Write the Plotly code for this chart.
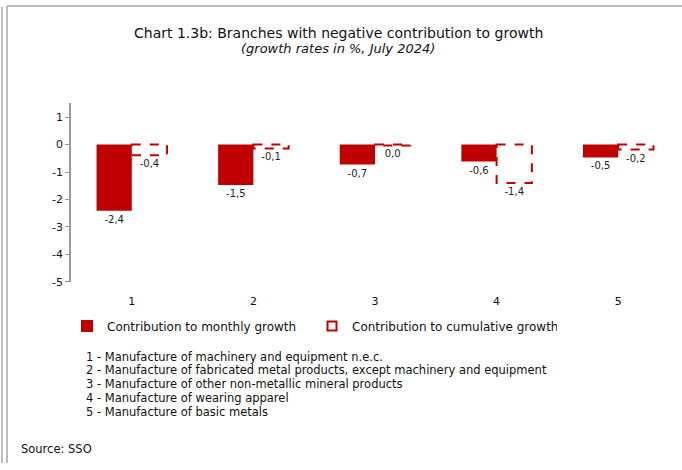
import plotly.graph_objects as go

# data
categories = ["1", "2", "3", "4", "5"]
monthly = [-2.41, -1.47, -0.73, -0.62, -0.47]
cumulative = [-0.39, -0.14, -0.03, -1.40, -0.18]
y_ticks = [1, 0, -1, -2, -3, -4, -5]
footnotes = [
    "1 - Manufacture of machinery and equipment n.e.c.",
    "2 - Manufacture of fabricated metal products, except machinery and equipment",
    "3 - Manufacture of other non-metallic mineral products",
    "4 - Manufacture of wearing apparel",
    "5 - Manufacture of basic metals",
]

W, H = 682, 470
RED = "#C00000"
GREY = "#9a9a9a"
FONT = "DejaVu Sans, Arial, sans-serif"
BAR_W = 0.29
Y_RANGE = [-5, 1.5]

def fmt(v):
    return f"{round(v, 1) + 0.0:.1f}".replace(".", ",")

x_dom = [71 / W, 679 / W]
y_dom = [1 - 286 / H, 1 - 105 / H]
zero_pos = y_dom[0] + (0 - Y_RANGE[0]) / (Y_RANGE[1] - Y_RANGE[0]) * (y_dom[1] - y_dom[0])

fig = go.Figure()

fig.add_trace(go.Bar(
    x=categories, y=monthly, name="Contribution to monthly growth",
    marker=dict(color=RED, line=dict(width=0)),
    width=BAR_W, offset=-BAR_W,
    text=[fmt(v) for v in monthly], textposition="outside",
    textfont=dict(size=10, color="#222222", family=FONT),
    cliponaxis=False,
))

fig.add_trace(go.Bar(
    x=categories, y=cumulative, name="Contribution to cumulative growth",
    marker=dict(color="rgba(0,0,0,0)", line=dict(width=0)),
    width=BAR_W, offset=0,
    text=[fmt(v) for v in cumulative], textposition="outside",
    textfont=dict(size=10, color="#222222", family=FONT),
    cliponaxis=False, showlegend=False,
))

# legend entry for the dashed series
fig.add_trace(go.Scatter(
    x=[None], y=[None], mode="markers", name="Contribution to cumulative growth",
    marker=dict(symbol="square-open", size=9, color=RED, line=dict(width=2)),
))

# dashed outlines for cumulative bars (plotly bars have no dashed border)
for i, v in enumerate(cumulative):
    fig.add_shape(
        type="rect", xref="x", yref="y",
        x0=i, x1=i + BAR_W, y0=0, y1=v,
        line=dict(color=RED, width=2, dash="dash"),
        fillcolor="rgba(0,0,0,0)",
    )

# frame lines
for x0, y0, x1, y1 in [(2, 7, 2, H), (7, 6, 7, H), (7, 6, W, 6)]:
    fig.add_shape(
        type="line", xref="paper", yref="paper",
        x0=x0 / W, x1=x1 / W, y0=1 - y0 / H, y1=1 - y1 / H,
        line=dict(color="#bdbdbd", width=2),
    )

fig.add_annotation(
    text="Chart 1.3b: Branches with negative contribution to growth",
    xref="paper", yref="paper", x=338 / W, y=1 - 33 / H,
    xanchor="center", yanchor="middle", borderpad=0,
    showarrow=False, font=dict(size=14, color="#111111", family=FONT),
)
fig.add_annotation(
    text="<i>(growth rates in %, July 2024)</i>",
    xref="paper", yref="paper", x=338 / W, y=1 - 49 / H,
    xanchor="center", yanchor="middle", borderpad=0,
    showarrow=False, font=dict(size=13, color="#111111", family=FONT),
)

for k, line in enumerate(footnotes):
    fig.add_annotation(
        text=line, xref="paper", yref="paper",
        x=84 / W, y=1 - (362 + 14 * k) / H, xanchor="left", yanchor="middle",
        showarrow=False, font=dict(size=11.5, color="#111111", family=FONT),
    )

fig.add_annotation(
    text="Source: SSO", xref="paper", yref="paper",
    x=19 / W, y=1 - 456 / H, xanchor="left", yanchor="middle",
    showarrow=False, font=dict(size=11.5, color="#111111", family=FONT),
)

fig.update_layout(
    width=W, height=H,
    margin=dict(l=0, r=0, t=0, b=0),
    paper_bgcolor="white", plot_bgcolor="white",
    font=dict(family=FONT, size=11, color="#111111"),
    separators=", ",
    barmode="group",
    xaxis=dict(
        domain=x_dom, type="category", showline=False, showgrid=False,
        ticks="", ticklabelstandoff=11, tickfont=dict(size=11),
        range=[-0.5, 4.5], fixedrange=True,
    ),
    xaxis2=dict(
        overlaying="x", anchor="free", position=zero_pos,
        range=[0.5, 5.5], showline=True, linecolor=GREY, linewidth=1.5,
        ticks="outside", ticklen=4, tickcolor=GREY,
        tickvals=[0.5, 1.5, 2.5, 3.5, 4.5, 5.5],
        showticklabels=False, showgrid=False, zeroline=False,
    ),
    yaxis=dict(
        domain=y_dom, range=Y_RANGE, tickvals=y_ticks,
        ticktext=[str(v) for v in y_ticks],
        showline=True, linecolor=GREY, linewidth=1.5,
        ticks="outside", ticklen=4, tickcolor=GREY,
        showgrid=False, zeroline=False, tickfont=dict(size=11),
    ),
    legend=dict(
        orientation="h", x=67 / W, y=1 - 331 / H,
        xanchor="left", yanchor="middle",
        entrywidth=200, font=dict(size=12),
        bgcolor="rgba(0,0,0,0)",
    ),
    showlegend=True,
)

fig.write_html(
    "out.html",
    config={"displayModeBar": False},
    post_script="document.documentElement.style.overflow='hidden';"
                "document.body.style.margin='0';document.body.style.overflow='hidden';",
)
